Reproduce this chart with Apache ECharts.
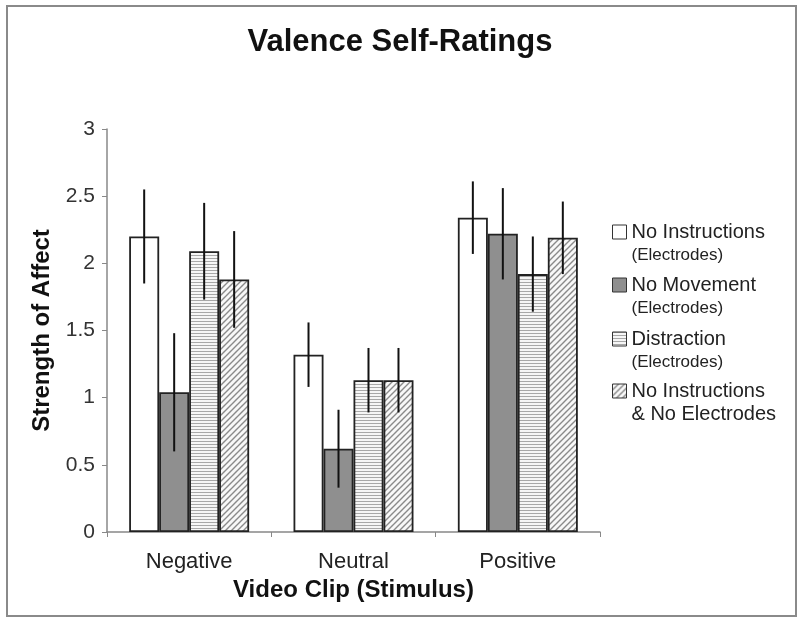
<!DOCTYPE html>
<html>
<head>
<meta charset="utf-8">
<script src="https://cdn.jsdelivr.net/npm/echarts@6/dist/echarts.min.js"></script>
<style>html,body{margin:0;padding:0;background:#fff}#c{width:800px;height:622px}</style>
</head>
<body>
<div id="c"></div>
<script>
var categories = ['Negative', 'Neutral', 'Positive'];
var seriesNames = ['No Instructions (Electrodes)', 'No Movement (Electrodes)', 'Distraction (Electrodes)', 'No Instructions & No Electrodes'];
var noInstructions = [2.20, 1.32, 2.34];
var noInstructionsErr = [0.35, 0.24, 0.27];
var noMovement = [1.04, 0.62, 2.22];
var noMovementErr = [0.44, 0.29, 0.34];
var distraction = [2.09, 1.13, 1.92];
var distractionErr = [0.36, 0.24, 0.28];
var noElectrodes = [1.88, 1.13, 2.19];
var noElectrodesErr = [0.36, 0.24, 0.27];
var yTicks = [0, 0.5, 1, 1.5, 2, 2.5, 3];

var values = [noInstructions, noMovement, distraction, noElectrodes];
var errs = [noInstructionsErr, noMovementErr, distractionErr, noElectrodesErr];

function stripePattern() {
  var c = document.createElement('canvas');
  c.width = 4; c.height = 3;
  var g = c.getContext('2d');
  g.fillStyle = '#f6f6f6'; g.fillRect(0, 0, 4, 3);
  g.fillStyle = '#a8a8a8'; g.fillRect(0, 0, 4, 1);
  return c;
}
function hatchPattern() {
  var s = 6;
  var c = document.createElement('canvas');
  c.width = s; c.height = s;
  var g = c.getContext('2d');
  g.fillStyle = '#f8f8f8'; g.fillRect(0, 0, s, s);
  g.strokeStyle = '#8a8a8a'; g.lineWidth = 1.4;
  g.beginPath();
  g.moveTo(-1, s + 1); g.lineTo(s + 1, -1);
  g.moveTo(-1, 1); g.lineTo(1, -1);
  g.moveTo(s - 1, s + 1); g.lineTo(s + 1, s - 1);
  g.stroke();
  return c;
}

var fills = [
  '#ffffff',
  '#8f8f8f',
  { image: stripePattern(), repeat: 'repeat' },
  { image: hatchPattern(), repeat: 'repeat' }
];

var gapFrac = 0.27;
var nBars = 4;

var legendLines = [
  ['No Instructions', '(Electrodes)', 'b'],
  ['No Movement', '(Electrodes)', 'b'],
  ['Distraction', '(Electrodes)', 'b'],
  ['No Instructions', '& No Electrodes', 'a']
];
var legendCenters = [235, 288, 342, 394];

var FONT = 'Liberation Sans, Arial, sans-serif';

var series = [];
values.forEach(function (v, i) {
  series.push({
    name: seriesNames[i],
    type: 'bar',
    data: v,
    barGap: '0%',
    barCategoryGap: (gapFrac * 100) + '%',
    itemStyle: { color: fills[i], borderColor: '#222', borderWidth: 1.8 },
    z: 2
  });
});
values.forEach(function (v, i) {
  series.push({
    name: 'err' + i,
    type: 'custom',
    z: 5,
    encode: { x: 0, y: 1 },
    data: v.map(function (val, k) { return [k, val, errs[i][k]]; }),
    renderItem: function (params, api) {
      var k = api.value(0), val = api.value(1), e = api.value(2);
      var band = api.size([1, 0])[0];
      var bw = band * (1 - gapFrac) / nBars;
      var off = -band * (1 - gapFrac) / 2 + bw * (i + 0.5);
      var top = api.coord([k, val + e]);
      var bot = api.coord([k, val - e]);
      return {
        type: 'line',
        shape: { x1: top[0] + off, y1: top[1], x2: bot[0] + off, y2: bot[1] },
        style: { stroke: '#111', lineWidth: 2 }
      };
    }
  });
});

var legends = legendLines.map(function (ln, i) {
  return {
    data: [{ name: seriesNames[i], icon: 'rect' }],
    left: 612,
    top: legendCenters[i] - 34.5,
    padding: 0,
    itemWidth: 14,
    itemHeight: 14,
    itemGap: 5,
    selectedMode: false,
    itemStyle: { borderWidth: 1, borderColor: '#333' },
    formatter: function () { return '{s| }\n{a|' + ln[0] + '}\n{' + ln[2] + '|' + ln[1] + '}'; },
    textStyle: {
      fontFamily: FONT,
      color: '#222',
      rich: {
        s: { fontSize: 17, lineHeight: 23 },
        a: { fontSize: 20, lineHeight: 23, color: '#222', fontFamily: FONT },
        b: { fontSize: 17, lineHeight: 23, color: '#222', fontFamily: FONT }
      }
    }
  };
});

var chart = echarts.init(document.getElementById('c'), null, { renderer: 'canvas' });
chart.setOption({
  backgroundColor: '#fff',
  animation: false,
  title: {
    text: 'Valence Self-Ratings',
    left: 'center',
    top: 22,
    textStyle: { fontFamily: FONT, fontSize: 31, fontWeight: 'bold', color: '#111' }
  },
  legend: legends,
  grid: { left: 107, right: 200, top: 129, bottom: 90, containLabel: false },
  xAxis: {
    type: 'category',
    data: categories,
    name: 'Video Clip (Stimulus)',
    nameLocation: 'middle',
    nameGap: 45,
    nameTextStyle: { fontFamily: FONT, fontSize: 24, fontWeight: 'bold', color: '#111' },
    axisLine: { lineStyle: { color: '#888', width: 1.5 } },
    axisTick: { show: true, length: 5, lineStyle: { color: '#888' } },
    axisLabel: { margin: 19, fontFamily: FONT, fontSize: 22, color: '#222' }
  },
  yAxis: {
    type: 'value',
    min: yTicks[0],
    max: yTicks[yTicks.length - 1],
    interval: yTicks[1] - yTicks[0],
    name: 'Strength of Affect',
    nameLocation: 'middle',
    nameGap: 53,
    nameTextStyle: { fontFamily: FONT, fontSize: 24, fontWeight: 'bold', color: '#111' },
    axisLine: { show: true, lineStyle: { color: '#888', width: 1.5 } },
    axisTick: { show: true, length: 5, lineStyle: { color: '#888' } },
    splitLine: { show: false },
    axisLabel: { margin: 12, fontFamily: FONT, fontSize: 21, color: '#333' }
  },
  graphic: [{
    type: 'rect',
    shape: { x: 7, y: 6, width: 789, height: 610 },
    style: { fill: null, stroke: '#8a8a8a', lineWidth: 2 },
    silent: true
  }],
  series: series
});
</script>
</body>
</html>
